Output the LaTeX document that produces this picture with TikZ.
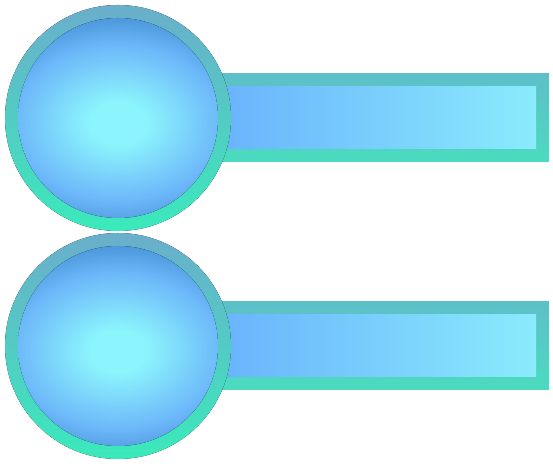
\documentclass[tikz,border=0pt]{standalone}

\definecolor{ringtop}{HTML}{6AAECB}
\definecolor{ringbot}{HTML}{3AEABB}
\definecolor{frametop}{HTML}{5DBFC9}
\definecolor{framebot}{HTML}{4BDBBF}
\definecolor{barleft}{HTML}{6AB4FC}
\definecolor{barright}{HTML}{8AEBFC}
\definecolor{bulbcore}{HTML}{8CF4FC}
\definecolor{bulbmid}{HTML}{6DB8FA}
\definecolor{bulbedge}{HTML}{4A95D9}

\pgfdeclareradialshading{bulb}{\pgfpoint{0bp}{0bp}}{%
  color(0bp)=(bulbcore); color(5bp)=(bulbcore); color(18bp)=(bulbmid); color(25bp)=(bulbedge); color(50bp)=(bulbedge)}

\tikzset{
  ring/.style={top color=ringtop, bottom color=ringbot},
  barframe/.style={top color=frametop, bottom color=framebot},
  barfill/.style={left color=barleft, right color=barright},
}

\begin{document}
\begin{tikzpicture}
	\useasboundingbox (0,0) rectangle (11.06,9.28);
	
	\foreach \y in {6.92,2.36} {
		% bar behind the ball
		\fill[barframe] (4.30,\y-0.88) rectangle (10.98,\y+0.88);
		\fill[barfill] (4.54,\y-0.62) rectangle (10.72,\y+0.62);
		
		% ball
		\fill[ring] (2.36,\y) circle (2.26);
		\begin{scope}
			\clip (2.36,\y) circle (2.0);
			\fill[shading=bulb] (2.36,\y-0.1) ellipse (2.86 and 2.15);
		\end{scope}
	}
\end{tikzpicture}
\end{document}
